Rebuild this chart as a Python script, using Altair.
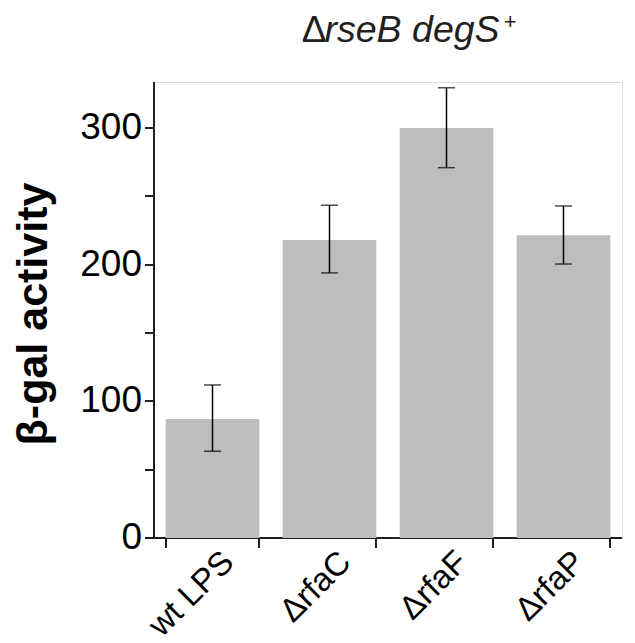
import altair as alt
import pandas as pd

categories = ["wt LPS", "ΔrfaC", "ΔrfaF", "ΔrfaP"]
values = [87, 218, 300, 221.5]
err_low = [63.5, 194, 271, 200.5]
err_high = [112, 243.5, 329.5, 243]
y_ticks = [0, 50, 100, 150, 200, 250, 300]

df = pd.DataFrame({"cat": categories, "val": values, "lo": err_low, "hi": err_high})

FONT = "Liberation Sans"
AX = "#231F20"

x_enc = alt.X("cat:N", sort=categories, title=None,
              scale=alt.Scale(paddingInner=0.2, paddingOuter=0.1),
              axis=alt.Axis(tickBand="extent", tickSize=10, tickWidth=2, tickColor=AX,
                            domainColor=AX, domainWidth=2, translate=0, labelAngle=-45,
                            labelAlign="right", labelBaseline="middle", labelFont=FONT,
                            labelFontSize=33, labelColor="black", labelOffset=16,
                            labelPadding=9, grid=False))

y_scale = alt.Scale(domain=[0, 333.7], nice=False, zero=True)

bars = alt.Chart(df).mark_bar(color="#BDBDBD").encode(
    x=x_enc,
    y=alt.Y("val:Q", scale=y_scale, title="β-gal activity",
            axis=alt.Axis(values=y_ticks, labelExpr="datum.value % 100 == 0 ? datum.label : ''",
                          tickSize=9, tickWidth=2, tickColor=AX, domainColor=AX, domainWidth=2,
                          translate=0, labelFont=FONT, labelFontSize=37, labelColor="black",
                          labelPadding=3, grid=False, titleFont=FONT, titleFontSize=43,
                          titleFontWeight="bold", titleColor="black", titleAngle=-90,
                          titleX=-107, titleY=232, titleAlign="center",
                          titleBaseline="alphabetic")),
)

rules = alt.Chart(df).mark_rule(color="black", strokeWidth=1.5).encode(
    x=alt.X("cat:N", sort=categories), y="lo:Q", y2="hi:Q")
cap_hi = alt.Chart(df).mark_tick(color="black", size=17, thickness=1.5).encode(
    x=alt.X("cat:N", sort=categories), y="hi:Q")
cap_lo = alt.Chart(df).mark_tick(color="black", size=17, thickness=1.5).encode(
    x=alt.X("cat:N", sort=categories), y="lo:Q")

title_df = pd.DataFrame({"t": ["x"]})
delta = alt.Chart(title_df).mark_text(text="Δ", font=FONT, fontSize=37, align="left",
                                      baseline="alphabetic", color=AX).encode(
    x=alt.value(147.7), y=alt.value(-40))
rest = alt.Chart(title_df).mark_text(text="rseB degS", font=FONT, fontSize=37.5, fontStyle="italic",
                                     align="left", baseline="alphabetic", color=AX).encode(
    x=alt.value(170.5), y=alt.value(-40))
plus = alt.Chart(title_df).mark_text(text="+", font=FONT, fontSize=22, fontStyle="italic",
                                     align="center", baseline="alphabetic", color=AX).encode(
    x=alt.value(356), y=alt.value(-53))

chart = alt.layer(bars, rules, cap_hi, cap_lo, delta, rest, plus).properties(
    width=468, height=456,
    autosize=alt.AutoSizeParams(type="none"),
    padding={"left": 146, "top": 74, "right": 2, "bottom": 105},
).configure_view(stroke=None).configure(background="white")

chart.save("out.html", embed_options={"renderer": "svg", "actions": False})
